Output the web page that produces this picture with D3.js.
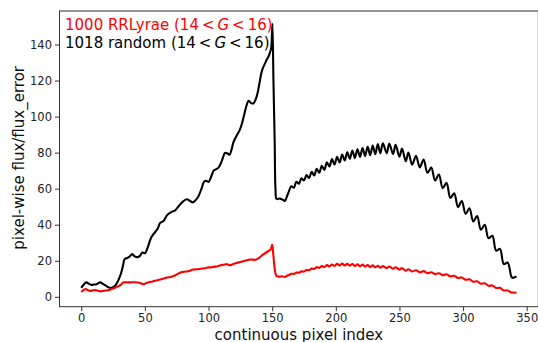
<!DOCTYPE html>
<html><head><meta charset="utf-8">
<script src="https://cdn.jsdelivr.net/npm/d3@7"></script>
<style>
html,body{margin:0;padding:0;background:#fff;}
svg{display:block;font-family:"DejaVu Sans",sans-serif;}
</style></head>
<body>
<svg id="chart" width="538" height="342"></svg>
<script>
// ---- data ----
const xTicks = [0, 50, 100, 150, 200, 250, 300, 350];
const yTicks = [0, 20, 40, 60, 80, 100, 120, 140];
const labelRR = "1000 RRLyrae";
const labelRandom = "1018 random";
const xLabel = "continuous pixel index";
const yLabel = "pixel-wise flux/flux_error";

const blackX = [0,2,4,6,8,10,12,14,15,17,19,21,23,25,27,29,31,32,33,34,36,38,40,42,44,46,48,50,52,54.7,57,60,62,64.6,67.3,70.7,73.8,76.4,80.3,83,85.5,87.7,90,92,94.5,96.6,98.5,100,102,104,106,108,110.5,113,115,116.5,118,119.6,122.8,124.5,126.2,128,130,131.5,133.5,135.3,137,138.5,140,142,145,147.5,149.2,149.8,150.2,151,152,152.6,153.5,156,158,160,161.5,
163,165,167,169,171,173,175,177,179,181,183,185,187,189,191,193,195,197,199,201,203,205,207,209,211,213,215,217,219,221,223,225,227,229,231,233,235,237,240,242,245,247,250,252,255,257,260,263,266,269,272,275,278,281,284,287,290,293,296,299,302,305,308,311,314,317,320,323,326,329,332,335,338,339,342];
const blackY = [5.0,6.8,8.0,7.2,6.6,6.8,7.0,7.8,8.0,7.2,6.3,5.4,4.9,5.3,6.5,9.0,12.5,15,18,20.9,21.5,22.3,23.7,22.4,22.0,22.6,24.6,24.2,27,32.5,35,37.8,41,42,45.2,47,48,50.2,53.1,54.1,53.2,52.4,53.8,55.7,60,64,64.3,63.7,66.5,70,70.8,71.8,75.6,79.8,79.5,78.8,81.5,85.8,90.4,92.5,96,101,106.5,108.8,107.5,107.3,109.5,113,118.5,125.5,130.5,134,138,145,151.5,120,85,60,54.3,54.5,54.0,53.2,55.5,
58.2,61.3,60.5,63.8,62.8,65.8,64.5,67.5,65.9,69.3,67.3,71,68.8,72.7,70.4,74.7,72.3,76.4,73.4,77.7,74.5,79,75.6,80.2,76.5,81.2,77.1,81.9,77.6,82.6,78.1,83.3,78.6,84,79.1,84.7,79.6,85.2,79.7,85.1,79.2,84.3,77.7,82.3,75.2,80.1,73.3,78.2,71.8,76.2,68.8,71.7,64.5,67.9,60.3,63.2,54.9,57.4,49.8,53.2,46,49.1,41.8,44.8,37.2,40,32.5,33.9,25.6,26.6,18.1,19,11,10.5,11.3];

const redX = [0,3.5,5,7,9,11,13,15,17,19,21,23,25,27,29,31,33,36,39,42,45,47,49,51,53,56,58,62,65,67.5,70,74,78,81,84,88,91,94,97,99,102,104,107,109,112,114.5,117,119,122,125,128,131,133,135,137,139.5,143,147,149,150,150.7,151.6,152.6,153.6,156,158,160,162,
163,165,167,169,171,173,175,177,179,181,183,185,187,189,191,193,195,197,199,201,203,205,207,209,211,213,215,217,219,221,223,225,227,229,231,233,235,237,240,242,245,247,250,252,255,257,260,263,266,269,272,275,278,281,284,287,290,293,296,299,302,305,308,311,314,317,320,323,326,329,332,335,338,339,342];
const redY = [2.7,4.3,3.8,3.3,3.5,3.7,3.4,3.0,3.3,3.5,3.6,4.1,4.6,5.2,5.8,6.6,8.0,8.0,8.0,8.1,7.9,7.4,7.0,7.6,8.1,8.5,8.9,9.6,10.2,10.7,11.0,12.0,13.5,13.9,14.2,15.1,15.3,15.6,15.8,16.3,16.3,16.6,17.0,17.4,17.8,18.1,17.5,18.0,18.8,19.3,19.9,20.4,20.7,20.6,20.5,21.5,23.5,25.3,26.5,28.8,25,18,13,11.4,11.2,11.4,11.0,11.8,
12.0,12.8,12.7,13.4,13.4,14.1,14.0,14.85,14.75,15.7,15.4,16.45,16.05,17.1,16.5,17.55,16.85,17.95,17.15,18.25,17.35,18.4,17.4,18.3,17.3,18.2,17.1,18.0,16.95,17.85,16.75,17.6,16.5,17.45,16.35,17.2,16.1,17.0,15.9,16.8,15.6,16.4,15.1,15.9,14.5,15.3,14.05,14.75,13.55,14.25,13.1,13.6,12.6,13.1,12.0,12.5,11.3,11.7,10.45,10.75,9.45,9.7,8.35,8.6,7.3,7.5,6.1,6.3,4.9,4.95,3.5,3.55,2.3,2.4,2.2];

// ---- layout ----
const svg = d3.select("#chart");
const plot = {left: 59.5, top: 11, right: 538.3, bottom: 306.7};
const x = d3.scaleLinear().domain([-17.1, 359.1]).range([plot.left, plot.right]);
const y = d3.scaleLinear().domain([-5.5, 158.6]).range([plot.bottom, plot.top]);

const axisColor = "#333";

// lines
const line = d3.line().x(d => x(d[0])).y(d => y(d[1])).curve(d3.curveCatmullRom.alpha(0.5));
const blackData = blackX.map((v, i) => [v, blackY[i]]);
const redData = redX.map((v, i) => [v, redY[i]]);

svg.append("path").datum(blackData).attr("d", line)
  .attr("fill", "none").attr("stroke", "#000").attr("stroke-width", 2.1).attr("stroke-linejoin", "round");
svg.append("path").datum(redData).attr("d", line)
  .attr("fill", "none").attr("stroke", "#ff0000").attr("stroke-width", 2.1).attr("stroke-linejoin", "round");

// axes
const xAxis = d3.axisBottom(x).tickValues(xTicks).tickSize(4.5).tickPadding(3).tickFormat(d3.format("d"));
const yAxis = d3.axisLeft(y).tickValues(yTicks).tickSize(4.5).tickPadding(3).tickFormat(d3.format("d"));

const gx = svg.append("g").attr("transform", `translate(0,${plot.bottom})`).call(xAxis);
const gy = svg.append("g").attr("transform", `translate(${plot.left},0)`).call(yAxis);
[gx, gy].forEach(g => {
  g.select(".domain").remove();
  g.selectAll(".tick line").attr("stroke", axisColor).attr("stroke-width", 1);
  g.selectAll(".tick text").attr("fill", "#222").style("font-size", "11.5px").style("font-family", "DejaVu Sans");
});

// frame (spines)
svg.append("rect").attr("x", plot.left).attr("y", plot.top)
  .attr("width", plot.right - plot.left).attr("height", plot.bottom - plot.top)
  .attr("fill", "none").attr("stroke", axisColor).attr("stroke-width", 1);

// axis labels
svg.append("text").attr("x", (plot.left + plot.right) / 2).attr("y", 339.5)
  .attr("text-anchor", "middle").style("font-size", "15px").attr("fill", "#111").text(xLabel);
svg.append("text").attr("transform", `translate(24,${(plot.top + plot.bottom) / 2 - 1}) rotate(-90)`)
  .attr("text-anchor", "middle").style("font-size", "15px").attr("fill", "#111").text(yLabel);

// legend-like annotations
function annot(yPos, label, color) {
  const t = svg.append("text").attr("x", 65).attr("y", yPos).attr("fill", color).style("font-size", "15px");
  t.append("tspan").text(label + " (14\u2009<\u2009");
  t.append("tspan").style("font-style", "italic").text("G");
  t.append("tspan").text("\u2009<\u200916)");
}
annot(29.5, labelRR, "#ff0000");
annot(47.5, labelRandom, "#000");
</script>
</body></html>
